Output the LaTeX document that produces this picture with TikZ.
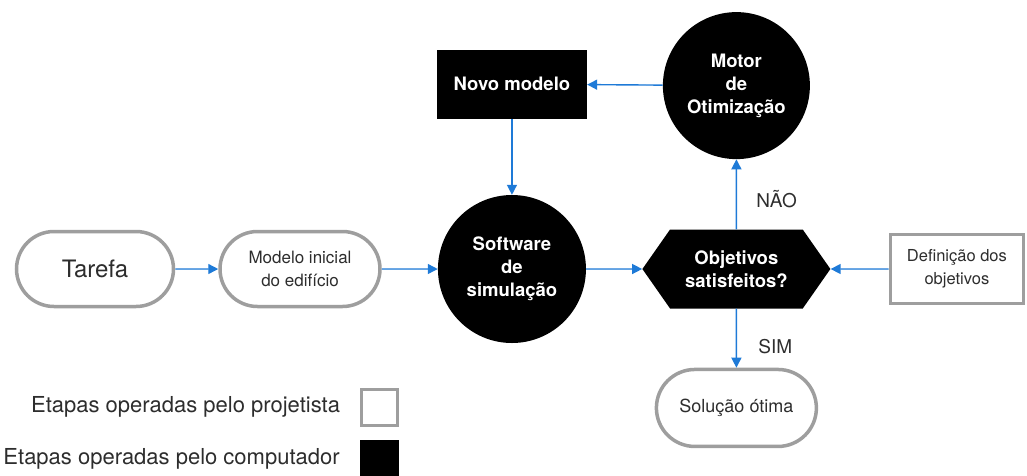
\documentclass[tikz,border=0pt]{standalone}
\usepackage{fontspec}
\setmainfont{TeX Gyre Heros}
\usetikzlibrary{shapes,arrows.meta,positioning}
\definecolor{azul}{RGB}{30,122,215}
\definecolor{borda}{RGB}{158,158,158}
\definecolor{texto}{RGB}{45,45,45}

\begin{document}
\begin{tikzpicture}[x=1pt, y=-1pt, >={Triangle[length=10pt,width=10pt]},
    proj/.style={rounded rectangle, draw=borda, line width=3.5pt, fill=white, align=center,
        text=texto, font=\fontsize{17}{23}\selectfont, inner sep=0pt},
    comp/.style={fill=black, text=white, align=center,
        font=\bfseries\fontsize{18.5}{23}\selectfont, inner sep=0pt},
    seta/.style={->, draw=azul, fill=azul, line width=1.4pt},
    rotulo/.style={text=texto, font=\fontsize{19}{22}\selectfont}]
        \useasboundingbox (0,0) rectangle (1027,475);
        \clip (0,0) rectangle (1027,475);

        % Linha principal
        \node[proj, minimum width=157, minimum height=75, font=\fontsize{24}{28}\selectfont] (tarefa) at (95,269) {Tarefa};
        \node[proj, minimum width=160, minimum height=75, right=43pt of tarefa] (modelo) {Modelo inicial\\do edifício};
        \node[comp, circle, minimum size=148, right=56pt of modelo] (software) {Software\\de\\simulação};
        \node[comp, signal, signal to=west and east, signal pointer angle=110,
            minimum width=188, minimum height=79, right=56pt of software] (objetivos) {Objetivos\\satisfeitos?};
        \node[rectangle, draw=borda, line width=3.5pt, align=center, text=texto, font=\fontsize{16.5}{23}\selectfont,
            minimum width=133, minimum height=69, inner sep=0pt, right=58pt of objetivos] (definicao) {Definição dos\\objetivos};

        % Ciclo de otimizacao
        \node[comp, rectangle, minimum width=150, minimum height=69, above=76pt of software] (novo) {Novo modelo};
        \node[comp, circle, minimum size=147, above=70pt of objetivos] (motor) {Motor\\de\\Otimização};
        \node[proj, minimum width=160, minimum height=77, font=\fontsize{18}{23}\selectfont, below=59pt of objetivos] (solucao) {Solução ótima};

        % Setas
        \draw[seta] (tarefa) -- (modelo);
        \draw[seta] (modelo) -- (software);
        \draw[seta] (software) -- (objetivos);
        \draw[seta] (definicao) -- (objetivos);
        \draw[seta] (novo) -- (software);
        \draw[seta] (motor) -- (novo);
        \draw[seta] (objetivos) -- node[rotulo, right, pos=0.43, xshift=16pt] {NÃO} (motor);
        \draw[seta] (objetivos) -- node[rotulo, right, pos=0.65, xshift=18pt] {SIM} (solucao);

        % Legenda
        \node[draw=borda, line width=3pt, minimum size=36, inner sep=0pt] (leg_proj) at (379,407) {};
        \node[fill=black, minimum size=39, inner sep=0pt] (leg_comp) at (379,459) {};
        \node[rotulo, font=\fontsize{22}{26}\selectfont, left=16pt of leg_proj] (txt_proj) {Etapas operadas pelo projetista};
        \node[rotulo, font=\fontsize{22}{26}\selectfont, left=16pt of leg_comp] (txt_comp) {Etapas operadas pelo computador};
\end{tikzpicture}
\end{document}
